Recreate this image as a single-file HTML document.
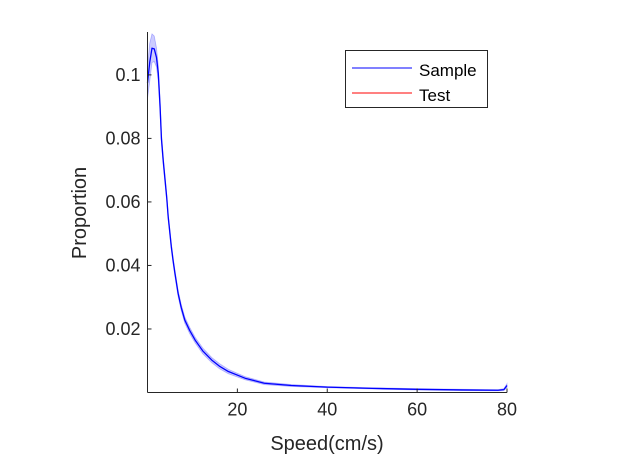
<!DOCTYPE html>
<html><head><meta charset="utf-8"><style>
body{margin:0;background:#fff;}
svg{display:block;font-family:"Liberation Sans",sans-serif;}
</style></head><body>
<svg id="chart" width="631" height="459">
<rect width="631" height="459" fill="#fff"/>
<g id="plot"></g>
<g id="axes"></g>
<text x="327" y="450" font-size="20" text-anchor="middle" fill="#262626">Speed(cm/s)</text>
<text transform="translate(86,213) rotate(-90)" font-size="20" text-anchor="middle" fill="#262626">Proportion</text>
<g>
<rect x="345.5" y="50.5" width="142" height="57" fill="#fff" stroke="#262626" stroke-width="1"/>
<line x1="352" y1="68" x2="412" y2="68" stroke="#0000ff" stroke-width="1"/>
<text x="419" y="76" font-size="17" fill="#000">Sample</text>
<line x1="352" y1="93" x2="412" y2="93" stroke="#ff0000" stroke-width="1"/>
<text x="419" y="101" font-size="17" fill="#000">Test</text>
</g>
</svg>
<script>
const speeds=[0,0.5,1,1.5,2,2.4,2.8,3.1,3.5,3.9,4.3,4.6,5.0,5.3,5.7,6.1,6.8,7.5,8.3,9.4,10.6,12.3,14.3,16,18,21.7,26,32,40,50,60,70,78,79.3,80];
const sampleVals=[0.0975,0.104,0.1084,0.1082,0.1055,0.1005,0.090,0.080,0.073,0.067,0.061,0.0554,0.050,0.0459,0.0415,0.0376,0.0313,0.0268,0.0228,0.0195,0.0165,0.0131,0.0102,0.0083,0.0066,0.0045,0.0029,0.0022,0.0017,0.0013,0.001,0.0008,0.0007,0.0009,0.0022];
const bandHalf=[0.005,0.006,0.0045,0.004,0.003,0.0025,0.002,0.0015,0.0013,0.0012,0.0011,0.001,0.001,0.001,0.001,0.001,0.001,0.001,0.001,0.001,0.0009,0.0009,0.0008,0.0008,0.0007,0.0005,0.0004,0.0003,0.0002,0.0002,0.0002,0.0002,0.0002,0.0003,0.0006];
const xTicks=[20,40,60,80];
const yTicks=[0.02,0.04,0.06,0.08,0.1];
const yTickLabels=["0.02","0.04","0.06","0.08","0.1"];
const X0=147.5,X1=507,Y0=392.5,Y1=32,XMAX=80,YMAX=0.1135;
function sx(v){return X0+(X1-X0)*v/XMAX;}
function sy(v){return Y0-(Y0-Y1)*v/YMAX;}
const NS="http://www.w3.org/2000/svg";
const plot=document.getElementById('plot'),axes=document.getElementById('axes');
let up=speeds.map((s,i)=>sx(s)+','+sy(Math.min(YMAX,sampleVals[i]+bandHalf[i])));
let lo=speeds.map((s,i)=>sx(s)+','+sy(Math.max(0,sampleVals[i]-bandHalf[i]))).reverse();
const band=document.createElementNS(NS,'polygon');
band.setAttribute('points',up.concat(lo).join(' '));
band.setAttribute('fill','#0000ff');band.setAttribute('fill-opacity','0.2');
band.setAttribute('stroke','#0000ff');band.setAttribute('stroke-opacity','0.25');band.setAttribute('stroke-width','0.8');


plot.appendChild(band);
const line=document.createElementNS(NS,'polyline');
line.setAttribute('points',speeds.map((s,i)=>sx(s)+','+sy(sampleVals[i])).join(' '));
line.setAttribute('fill','none');line.setAttribute('stroke','#0000ff');line.setAttribute('stroke-width','1.3');
line.setAttribute('stroke-linejoin','round');


plot.appendChild(line);
function mk(tag,attrs){const e=document.createElementNS(NS,tag);for(const k in attrs)e.setAttribute(k,attrs[k]);axes.appendChild(e);return e;}
const xa=mk('line',{x1:X0,y1:Y0,x2:X1,y2:Y0,stroke:'#262626','stroke-width':1});


const ya=mk('line',{x1:X0,y1:Y0,x2:X0,y2:Y1,stroke:'#262626','stroke-width':1});


xTicks.forEach(t=>{
 const tk=mk('line',{x1:sx(t),y1:Y0,x2:sx(t),y2:Y0-4,stroke:'#262626'});
 
 
 const tl=mk('text',{x:sx(t),y:Y0+23,'font-size':18,'text-anchor':'middle',fill:'#262626'});
 tl.textContent=t;
 
 
});
yTicks.forEach((t,i)=>{
 const tk=mk('line',{x1:X0,y1:sy(t),x2:X0+4,y2:sy(t),stroke:'#262626'});
 
 
 const tl=mk('text',{x:X0-7,y:sy(t)+6,'font-size':18,'text-anchor':'end',fill:'#262626'});
 tl.textContent=yTickLabels[i];
 
 
});
</script>
</body></html>
